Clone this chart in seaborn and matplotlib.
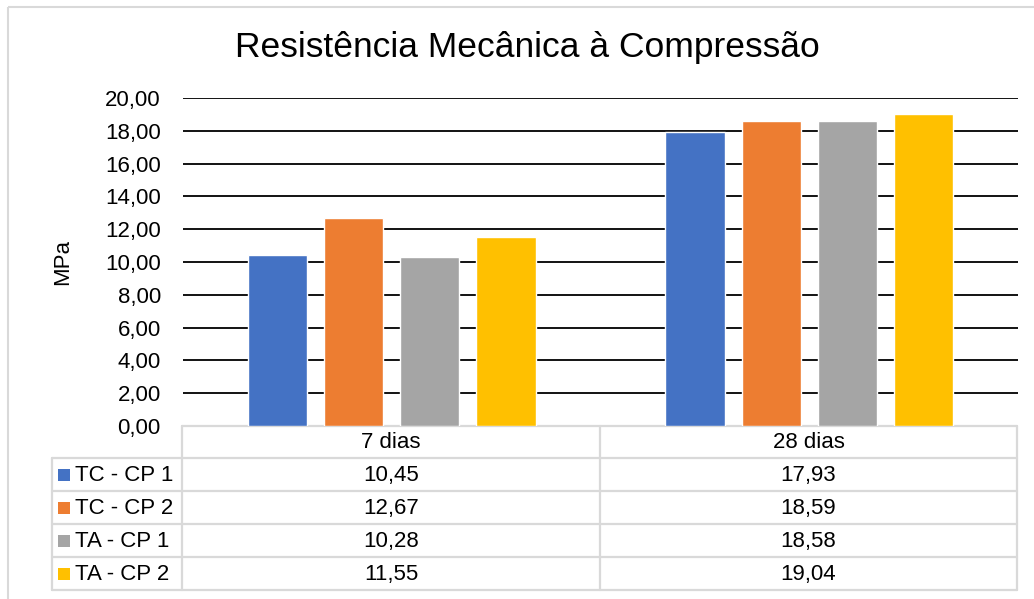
import matplotlib
matplotlib.use("Agg")
import matplotlib.pyplot as plt
import seaborn as sns
import pandas as pd
from matplotlib.ticker import FuncFormatter
from matplotlib.patches import Rectangle

categories = ["7 dias", "28 dias"]
series = ["TC - CP 1", "TC - CP 2", "TA - CP 1", "TA - CP 2"]
tc_cp1 = [10.45, 17.93]
tc_cp2 = [12.67, 18.59]
ta_cp1 = [10.28, 18.58]
ta_cp2 = [11.55, 19.04]
colors = ["#4472C4", "#ED7D31", "#A5A5A5", "#FFC000"]
yticks = [0, 2, 4, 6, 8, 10, 12, 14, 16, 18, 20]
title = "Resistência Mecânica à Compressão"
ylabel = "MPa"

values = [tc_cp1, tc_cp2, ta_cp1, ta_cp2]
rows = []
for s, vals in zip(series, values):
    for c, v in zip(categories, vals):
        rows.append({"cat": c, "serie": s, "val": v})
df = pd.DataFrame(rows)

sns.set_theme(style="white")
plt.rcParams['font.family'] = ['Liberation Sans', 'DejaVu Sans']

W, H = 1034, 599
fig = plt.figure(figsize=(W / 100, H / 100), dpi=100)

# overlay axes in pixel coordinates for border and table
ov = fig.add_axes([0, 0, 1, 1], zorder=0)
ov.set_xlim(0, W)
ov.set_ylim(H, 0)
ov.axis("off")
ov.add_patch(Rectangle((8, 7), W + 10, H + 10, fill=False, edgecolor="#D9D9D9", lw=1.5))

x0, x1 = 183, 1018
y0, y1 = 98, 426
ax = fig.add_axes([x0 / W, 1 - y1 / H, (x1 - x0) / W, (y1 - y0) / H], zorder=1)
ax.patch.set_alpha(0)
sns.barplot(data=df, x="cat", y="val", hue="serie", hue_order=series,
            order=categories, palette=colors, width=0.729, gap=0.22,
            saturation=1, ax=ax, legend=False, zorder=3)
ax.set_xlim(-0.5, 1.5)
ax.set_ylim(0, 20)
ax.set_yticks(yticks)
ax.yaxis.set_major_formatter(FuncFormatter(lambda v, p: f"{v:.2f}".replace(".", ",")))
ax.tick_params(axis="y", labelsize=16, length=0, pad=16, colors="black")
ax.set_xticks([])
ax.set_xlabel("")
ax.set_ylabel(ylabel, fontsize=16, color="black")
ax.yaxis.label.set_va("center")
ax.yaxis.set_label_coords((63 - x0) / (x1 - x0), 0.5)
for v in yticks[1:]:
    ax.axhline(v, color="black", lw=1.3, zorder=1)
for sp in ax.spines.values():
    sp.set_visible(False)

fig.text(527 / W, 1 - 48 / H, title, ha="center", va="center", fontsize=25.5, color="black")

# data table
gc = "#D9D9D9"
lw = 1.6
row_y = [426, 458, 491, 524, 557, 590]
xl, xs, xm, xr = 52, 182, 600, 1017
ov.plot([xs, xr], [row_y[0], row_y[0]], color=gc, lw=lw)
for yy in row_y[1:]:
    ov.plot([xl, xr], [yy, yy], color=gc, lw=lw)
ov.plot([xs, xs], [row_y[0], row_y[-1]], color=gc, lw=lw)
ov.plot([xm, xm], [row_y[0], row_y[-1]], color=gc, lw=lw)
ov.plot([xr, xr], [row_y[0], row_y[-1]], color=gc, lw=lw)
ov.plot([xl, xl], [row_y[1], row_y[-1]], color=gc, lw=lw)

col_centers = [(xs + xm) / 2, (xm + xr) / 2]
hy = (row_y[0] + row_y[1]) / 2
for c, cx in zip(categories, col_centers):
    ov.text(cx, hy + 1, c, ha="center", va="center", fontsize=16, color="black")
for i, (s, vals, col) in enumerate(zip(series, values, colors)):
    yc = (row_y[i + 1] + row_y[i + 2]) / 2
    ov.add_patch(Rectangle((58, yc - 6), 12, 12, facecolor=col, edgecolor="none"))
    ov.text(75, yc + 1, s, ha="left", va="center", fontsize=16, color="black")
    for v, cx in zip(vals, col_centers):
        ov.text(cx, yc + 1, f"{v:.2f}".replace(".", ","), ha="center", va="center",
                fontsize=16, color="black")

fig.savefig("out.png", dpi=100)
